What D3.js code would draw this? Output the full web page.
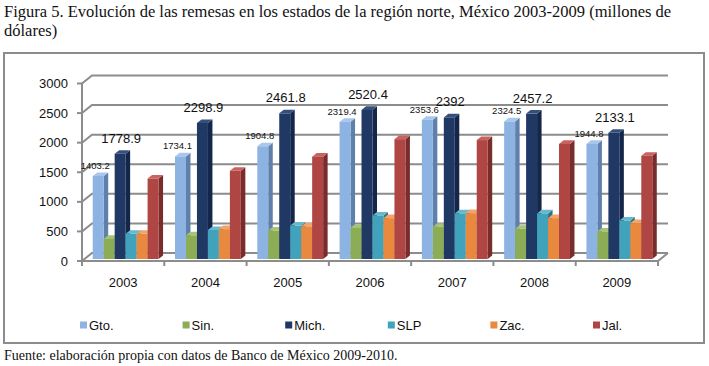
<!DOCTYPE html>
<html>
<head>
<meta charset="utf-8">
<script src="https://cdn.jsdelivr.net/npm/d3@7"></script>
<style>
  body { margin: 0; background: #fff; }
  svg { display: block; }
  .title, .source { font-family: "Liberation Serif", "Times New Roman", serif; fill: #111; }
  .tick-label, .legend text, .val { font-family: "Liberation Sans", Arial, sans-serif; fill: #111; }
</style>
</head>
<body>
<svg id="chart" width="709" height="366"></svg>
<script>
var years = ["2003", "2004", "2005", "2006", "2007", "2008", "2009"];
var seriesNames = ["Gto.", "Sin.", "Mich.", "SLP", "Zac.", "Jal."];
var gto = [1403.2, 1734.1, 1904.8, 2319.4, 2353.6, 2324.5, 1944.8];
var sin = [340, 400, 480, 525, 545, 510, 465];
var mich = [1778.9, 2298.9, 2461.8, 2520.4, 2392, 2457.2, 2133.1];
var slp = [425, 490, 565, 735, 770, 770, 650];
var zac = [425, 505, 550, 690, 775, 690, 605];
var jal = [1360, 1490, 1730, 2025, 2010, 1945, 1745];
var yTicks = [0, 500, 1000, 1500, 2000, 2500, 3000];

var seriesValues = [gto, sin, mich, slp, zac, jal];
// front, side, top shades per series
var colors = [
  ["#8db3e2", "#5f80aa", "#a9c7ec"],
  ["#8cad55", "#5f7a35", "#a6c474"],
  ["#1f3864", "#14264a", "#34507f"],
  ["#41a2bc", "#2b7486", "#68b9cf"],
  ["#e9883f", "#ad602a", "#f2a569"],
  ["#b04643", "#782c2b", "#c8635f"]
];

var svg = d3.select("#chart");
var gridColor = "#8c8c8c";

// wall depth offset (back plane relative to front plane)
var depthX = 10, depthY = 8;
// bars sit between 25% and 70% of the depth
var barF0 = 0.25, barF1 = 0.7;

var x0 = 82, x1 = 658;
var yScale = d3.scaleLinear().domain([0, 3000]).range([261, 83.5]);
var xScale = d3.scaleBand().domain(years).range([x0, x1])
    .paddingInner(0.2).paddingOuter(0.1);
var sScale = d3.scaleBand().domain(seriesNames).range([0, xScale.bandwidth()]);

// title
svg.append("text").attr("class", "title")
    .attr("x", 4).attr("y", 17).style("font-size", "16.5px")
    .text("Figura 5. Evolución de las remesas en los estados de la región norte, México 2003-2009 (millones de");
svg.append("text").attr("class", "title")
    .attr("x", 4).attr("y", 36).style("font-size", "16.5px")
    .text("dólares)");

// outer frame
svg.append("rect")
    .attr("x", 4).attr("y", 53).attr("width", 700).attr("height", 290)
    .attr("fill", "none").attr("stroke", gridColor).attr("stroke-width", 2);

// gridlines: left wall diagonal + back wall
var grid = svg.append("g").attr("fill", "none")
    .attr("stroke", gridColor).attr("stroke-width", 2);
yTicks.forEach(function(t) {
  var y = yScale(t);
  grid.append("path")
      .attr("d", `M ${x0} ${y} L ${x0 + depthX} ${y - depthY} L ${x1 + depthX} ${y - depthY}`);
  grid.append("line")
      .attr("x1", x0 - 5).attr("x2", x0)
      .attr("y1", y).attr("y2", y);
});
// vertical axis line
grid.append("line")
    .attr("x1", x0).attr("x2", x0)
    .attr("y1", yScale(0)).attr("y2", yScale(3000));
// floor front edge and right edge
grid.append("path")
    .attr("d", `M ${x0} ${yScale(0)} L ${x1} ${yScale(0)} L ${x1 + depthX} ${yScale(0) - depthY}`);
// x ticks
d3.range(years.length + 1).forEach(function(i) {
  var xt = x0 + i * xScale.step();
  grid.append("line")
      .attr("x1", xt).attr("x2", xt)
      .attr("y1", yScale(0)).attr("y2", yScale(0) + 5);
});

// y tick labels
svg.append("g").selectAll("text")
    .data(yTicks)
    .enter().append("text")
        .attr("class", "tick-label")
        .attr("x", 68)
        .attr("y", function(d) { return yScale(d); })
        .attr("dy", "0.35em")
        .style("text-anchor", "end")
        .style("font-size", "13px")
        .text(function(d) { return d; });

// x labels
svg.append("g").selectAll("text")
    .data(years)
    .enter().append("text")
        .attr("class", "tick-label")
        .attr("x", function(d) { return x0 + (years.indexOf(d) + 0.5) * xScale.step(); })
        .attr("y", 287)
        .style("text-anchor", "middle")
        .style("font-size", "13px")
        .text(function(d) { return d; });

// bars
var fx = barF0 * depthX, fy = barF0 * depthY;
var bdx = (barF1 - barF0) * depthX, bdy = (barF1 - barF0) * depthY;
var w = sScale.bandwidth();
var barsG = svg.append("g");
var labels = [];

years.forEach(function(year, i) {
  seriesNames.forEach(function(name, s) {
    var v = seriesValues[s][i];
    var bx = xScale(year) + sScale(name) + fx;
    var yT = yScale(v) - fy;
    var yB = yScale(0) - fy;
    var c = colors[s];
    barsG.append("path")
        .attr("fill", c[1])
        .attr("d", `M ${bx + w} ${yT} L ${bx + w + bdx} ${yT - bdy} L ${bx + w + bdx} ${yB - bdy} L ${bx + w} ${yB} Z`);
    barsG.append("path")
        .attr("fill", c[2])
        .attr("d", `M ${bx} ${yT} L ${bx + bdx} ${yT - bdy} L ${bx + w + bdx} ${yT - bdy} L ${bx + w} ${yT} Z`);
    barsG.append("rect")
        .attr("x", bx).attr("y", yT)
        .attr("width", w).attr("height", yB - yT)
        .attr("fill", c[0]);
    if (name === "Gto.") {
      labels.push({x: bx + w / 2 - 3, y: yT - 7, size: 9.5, text: String(v)});
    } else if (name === "Mich.") {
      labels.push({x: bx + w / 2 + 1, y: yT - 11, size: 13, text: String(v)});
    }
  });
});

svg.append("g").selectAll("text")
    .data(labels)
    .enter().append("text")
        .attr("class", "val")
        .attr("x", function(d) { return d.x; })
        .attr("y", function(d) { return d.y; })
        .style("text-anchor", "middle")
        .style("font-size", function(d) { return d.size + "px"; })
        .text(function(d) { return d.text; });

// legend
var legend = svg.append("g").attr("class", "legend")
    .selectAll("g")
    .data(seriesNames)
    .enter().append("g")
        .attr("transform", function(d, i) { return `translate(${80 + i * 102.6}, 325)`; });
legend.append("rect")
    .attr("x", 0).attr("y", -3.5)
    .attr("width", 7).attr("height", 7)
    .attr("fill", function(d, i) { return colors[i][0]; });
legend.append("text")
    .attr("x", 9).attr("y", 0).attr("dy", "0.35em")
    .style("font-size", "13px")
    .text(function(d) { return d; });

// source note
svg.append("text").attr("class", "source")
    .attr("x", 4).attr("y", 360).style("font-size", "14px")
    .text("Fuente: elaboración propia con datos de Banco de México 2009-2010.");
</script>
</body>
</html>
